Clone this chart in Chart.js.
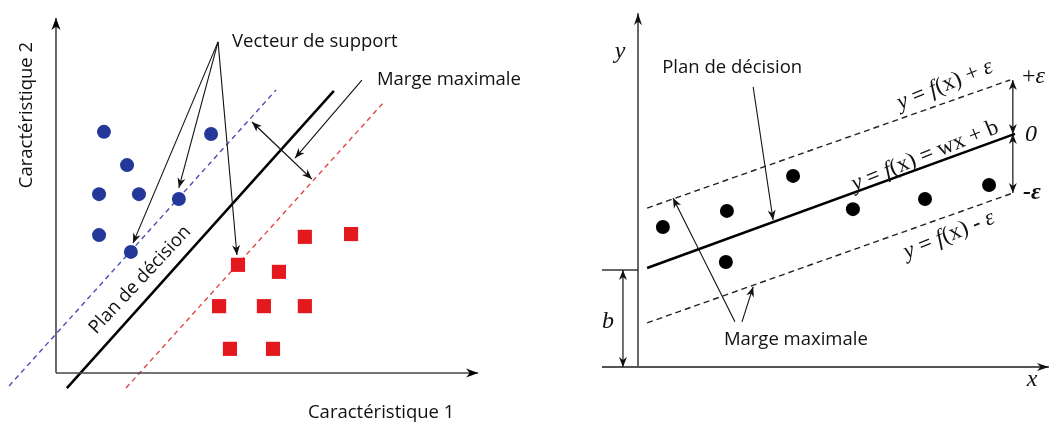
<!DOCTYPE html>
<html>
<head>
<meta charset="utf-8">
<script src="https://cdn.jsdelivr.net/npm/chart.js@4.4.1/dist/chart.umd.min.js"></script>
<style>
  html, body { margin: 0; padding: 0; background: #fff; }
  #wrap { display: flex; width: 1049px; height: 423px; }
  canvas { display: block; }
</style>
</head>
<body>
<div id="wrap">
  <canvas id="svm" width="530" height="423"></canvas>
  <canvas id="svr" width="519" height="423"></canvas>
</div>
<script>
// ---- left panel: SVM classification (units from the axis corner) ----
const blueX = [1.37, 4.43, 2.03, 1.23, 2.37, 3.51, 1.23, 2.14];
const blueY = [6.89, 6.83, 5.94, 5.11, 5.11, 4.97, 3.94, 3.46];
const redX = [7.11, 8.43, 5.20, 6.37, 4.66, 5.94, 7.11, 4.97, 6.20];
const redY = [3.89, 3.97, 3.09, 2.89, 1.91, 1.91, 1.91, 0.69, 0.69];
const blueMargin = [[-1.34, -0.37], [6.29, 8.09]];
const hyperplane = [[0.31, -0.43], [7.94, 8.06]];
const redMargin = [[2.00, -0.43], [9.37, 7.74]];
const svmAxes = [[[0, 0], [0, 10.14]], [[0, 0], [12.06, 0]]];
const supportFrom = [4.63, 9.46];
const supportTo = [[2.20, 3.71], [3.51, 5.29], [5.17, 3.37]];
const marginSpan = [[5.60, 7.17], [7.31, 5.54]];
const marginPointer = [[8.74, 8.37], [6.83, 6.14]];
const svmLabels = [
  { text: 'Vecteur de support', at: [5.03, 9.46], align: 'left' },
  { text: 'Marge maximale', at: [9.17, 8.37], align: 'left' },
  { text: 'Caractéristique 1', at: [9.29, -1.14], align: 'center' },
  { text: 'Caractéristique 2', at: [-0.83, 7.37], align: 'center', angle: -90 },
  { text: 'Plan de décision', at: [2.40, 2.66], align: 'center', angle: -47 }
];

// ---- right panel: SVR ----
const svrX = [0.71, 2.54, 4.43, 2.51, 6.14, 8.20, 10.03];
const svrY = [4.00, 4.46, 5.46, 3.00, 4.51, 4.80, 5.20];
const regLine = [[0.26, 2.83], [10.77, 6.66]];
const upperTube = [[0.26, 4.54], [10.63, 8.20]];
const lowerTube = [[0.26, 1.26], [10.71, 4.97]];
const svrAxes = [[[0, 0], [0, 10.11]], [[-1.03, 0], [11.74, 0]]];
const bTick = [[-1.03, 2.77], [0, 2.77]];
const bSpan = [[-0.43, 0], [-0.43, 2.77]];
const epsUp = [[10.71, 8.20], [10.71, 6.66]];
const epsDown = [[10.71, 6.66], [10.71, 4.97]];
const planPointer = [[3.29, 8.00], [3.86, 4.20]];
const margePointers = [[[2.77, 1.29], [1.00, 4.83]], [[2.97, 1.29], [3.29, 2.29]]];
const svrLabels = [
  { text: 'Plan de décision', at: [2.69, 8.54], align: 'center' },
  { text: 'Marge maximale', at: [4.51, 0.77], align: 'center' },
  { runs: [['y', 1], [' = ', 0], ['f', 1], ['(x) + ', 0], ['ε', 1]], at: [8.77, 8.06], angle: -22, serif: 23 },
  { runs: [['y', 1], [' = ', 0], ['f', 1], ['(x) = wx + b', 0]], at: [8.20, 6.03], angle: -22, serif: 23 },
  { runs: [['y', 1], [' = ', 0], ['f', 1], ['(x) - ', 0], ['ε', 1]], at: [8.89, 3.77], angle: -22, serif: 23 },
  { runs: [['+', 0], ['ε', 1]], at: [10.97, 8.29], align: 'left', serif: 24 },
  { runs: [['0', 1]], at: [11.06, 6.63], align: 'left', serif: 24 },
  { runs: [['-ε', 2]], at: [11.00, 4.97], align: 'left', serif: 24 },
  { runs: [['y', 1]], at: [-0.51, 9.00], serif: 24 },
  { runs: [['x', 1]], at: [11.26, -0.37], serif: 24 },
  { runs: [['b', 1]], at: [-0.86, 1.29], serif: 24 }
];

const pts = (xs, ys) => xs.map((x, i) => ({ x, y: ys[i] }));
const seg = s => s.map(p => ({ x: p[0], y: p[1] }));
const SANS = '18.5px "Open Sans", "Noto Sans", sans-serif';

// arrows and texts placed through the chart's own scales
const diagramPlugin = {
  id: 'diagram',
  afterDatasetsDraw(chart, args, opts) {
    const { ctx } = chart;
    const sx = chart.scales.x, sy = chart.scales.y;
    const px = p => [sx.getPixelForValue(p[0]), sy.getPixelForValue(p[1])];

    const head = (tx, ty, ang, len, half) => {
      ctx.beginPath();
      ctx.moveTo(tx, ty);
      ctx.lineTo(tx - len * Math.cos(ang) + half * Math.sin(ang), ty - len * Math.sin(ang) - half * Math.cos(ang));
      ctx.lineTo(tx - len * 0.7 * Math.cos(ang), ty - len * 0.7 * Math.sin(ang));
      ctx.lineTo(tx - len * Math.cos(ang) - half * Math.sin(ang), ty - len * Math.sin(ang) + half * Math.cos(ang));
      ctx.closePath();
      ctx.fill();
    };

    (opts.arrows || []).forEach(a => {
      const [x1, y1] = px(a.seg[0]);
      const [x2, y2] = px(a.seg[1]);
      const ang = Math.atan2(y2 - y1, x2 - x1);
      ctx.save();
      ctx.strokeStyle = a.color || '#111';
      ctx.fillStyle = a.headColor || a.color || '#111';
      ctx.lineWidth = a.width || 1.2;
      ctx.beginPath();
      ctx.moveTo(x1, y1);
      ctx.lineTo(x2, y2);
      ctx.stroke();
      const len = a.len || 10, half = a.half || 4;
      if (a.heads === 'end' || a.heads === 'both') head(x2, y2, ang, len, half);
      if (a.heads === 'both') head(x1, y1, ang + Math.PI, len, half);
      ctx.restore();
    });

    (opts.labels || []).forEach(l => {
      const [x, y] = px(l.at);
      ctx.save();
      ctx.translate(x, y);
      if (l.angle) ctx.rotate(l.angle * Math.PI / 180);
      ctx.fillStyle = '#111';
      ctx.textBaseline = 'middle';
      if (l.text) {
        ctx.font = SANS;
        ctx.textAlign = l.align || 'center';
        ctx.fillText(l.text, 0, 0);
      } else {
        const fontOf = k => (k === 1 ? 'italic ' : k === 2 ? 'italic bold ' : '') + l.serif + 'px "Liberation Serif", "DejaVu Serif", serif';
        let total = 0;
        l.runs.forEach(r => { ctx.font = fontOf(r[1]); total += ctx.measureText(r[0]).width; });
        let cx = l.align === 'left' ? 0 : -total / 2;
        ctx.textAlign = 'left';
        l.runs.forEach(r => {
          ctx.font = fontOf(r[1]);
          ctx.fillText(r[0], cx, 0);
          cx += ctx.measureText(r[0]).width;
        });
      }
      ctx.restore();
    });
  }
};

const lineSet = (data, color, width, dash) => ({
  type: 'scatter', data: seg(data), showLine: true, borderColor: color,
  borderWidth: width, borderDash: dash || [], pointRadius: 0, fill: false
});

const baseOptions = (xr, yr, arrows, labels) => ({
  responsive: false,
  animation: false,
  layout: { padding: 0, autoPadding: false },
  events: [],
  scales: {
    x: { type: 'linear', display: false, min: xr[0], max: xr[1] },
    y: { type: 'linear', display: false, min: yr[0], max: yr[1] }
  },
  plugins: {
    legend: { display: false },
    tooltip: { enabled: false },
    diagram: { arrows, labels }
  }
});

// left chart
new Chart(document.getElementById('svm'), {
  type: 'scatter',
  data: {
    datasets: [
      { data: pts(blueX, blueY), pointStyle: 'circle', pointRadius: 7, backgroundColor: '#24389a', borderWidth: 0 },
      { data: pts(redX, redY), pointStyle: 'rect', pointRadius: 10, backgroundColor: '#e4191d', borderWidth: 0 },
      lineSet(hyperplane, '#000', 2.5),
      lineSet(blueMargin, '#4a4fb3', 1.4, [5, 4]),
      lineSet(redMargin, '#e0474a', 1.4, [5, 4])
    ]
  },
  options: baseOptions([-1.6, 13.543], [-1.4286, 10.657], [
    ...svmAxes.map(s => ({ seg: s, heads: 'end', color: '#444', headColor: '#000', width: 1.6, len: 12, half: 4.5 })),
    ...supportTo.map(t => ({ seg: [supportFrom, t], heads: 'end', width: 1.1 })),
    { seg: marginSpan, heads: 'both', width: 1.3 },
    { seg: marginPointer, heads: 'end', width: 1.1 }
  ], svmLabels),
  plugins: [diagramPlugin]
});

// right chart
new Chart(document.getElementById('svr'), {
  type: 'scatter',
  data: {
    datasets: [
      { data: pts(svrX, svrY), pointStyle: 'circle', pointRadius: 7, backgroundColor: '#000', borderWidth: 0 },
      lineSet(regLine, '#000', 2.5),
      lineSet(upperTube, '#222', 1.4, [6, 4]),
      lineSet(lowerTube, '#222', 1.4, [6, 4])
    ]
  },
  options: baseOptions([-3.086, 11.743], [-1.6, 10.486], [
    ...svrAxes.map(s => ({ seg: s, heads: 'end', color: '#555', headColor: '#111', width: 1.8, len: 12, half: 4 })),
    { seg: bTick, heads: 'none', color: '#333', width: 1.5 },
    { seg: bSpan, heads: 'both', width: 1.2 },
    { seg: epsUp, heads: 'both', width: 1.2 },
    { seg: epsDown, heads: 'both', width: 1.2 },
    { seg: planPointer, heads: 'end', width: 1.1 },
    ...margePointers.map(s => ({ seg: s, heads: 'end', width: 1.1 }))
  ], svrLabels),
  plugins: [diagramPlugin]
});
</script>
</body>
</html>
